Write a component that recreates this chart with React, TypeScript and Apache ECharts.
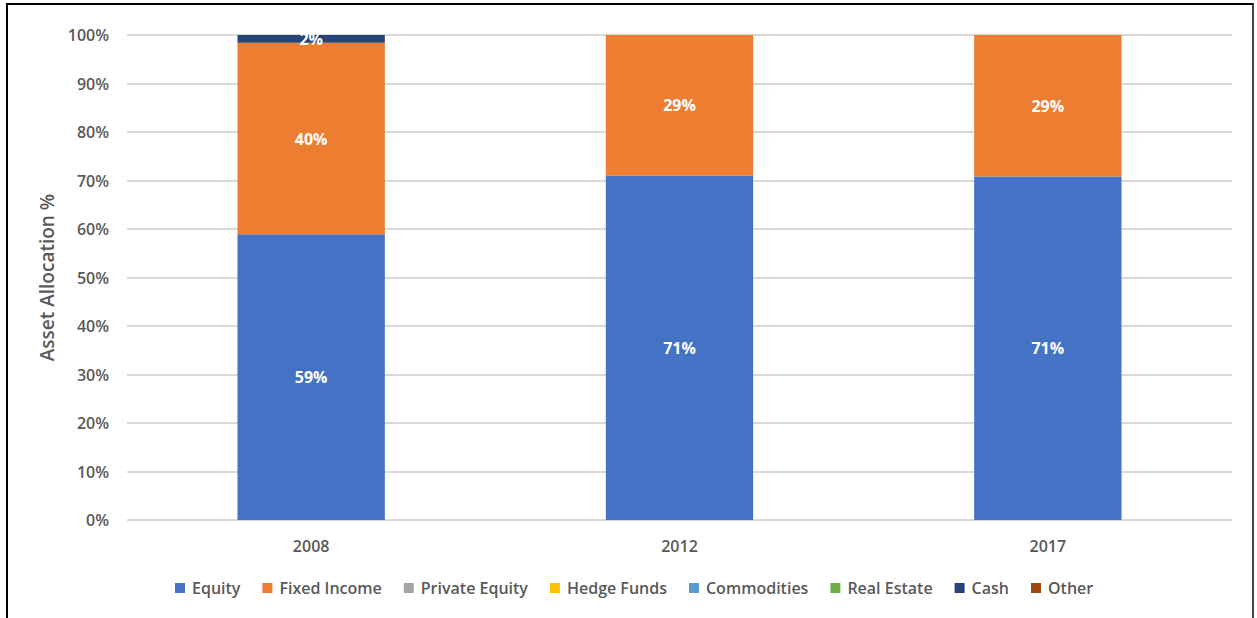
import React, { useEffect, useRef } from "react";
import * as echarts from "echarts";

const categories = ["2008", "2012", "2017"];
const seriesNames = ["Equity", "Fixed Income", "Private Equity", "Hedge Funds", "Commodities", "Real Estate", "Cash", "Other"];
const equity = [58.9, 71.0, 70.8];
const fixedIncome = [39.5, 29.0, 29.2];
const privateEquity = [0, 0, 0];
const hedgeFunds = [0, 0, 0];
const commodities = [0, 0, 0];
const realEstate = [0, 0, 0];
const cash = [1.6, 0, 0];
const other = [0, 0, 0];
const yTicks = [0, 10, 20, 30, 40, 50, 60, 70, 80, 90, 100];
const colors = ["#4472C4", "#ED7D31", "#A5A5A5", "#FFC000", "#5B9BD5", "#70AD47", "#264478", "#9E480E"];

const FONT = "'Open Sans', 'Noto Sans', sans-serif";

export default function App() {
  const ref = useRef<HTMLDivElement>(null);
  useEffect(() => {
    if (!ref.current) return;
    const chart = echarts.init(ref.current, null, { renderer: "svg" });
    const all = [equity, fixedIncome, privateEquity, hedgeFunds, commodities, realEstate, cash, other];
    chart.setOption({
      animation: false,
      color: colors,
      grid: { left: 127, right: 1257 - 1232, top: 35, bottom: 618 - 520, containLabel: false },
      legend: {
        bottom: 17,
        left: 170,
        itemWidth: 10,
        itemHeight: 10,
        itemGap: 22,
        icon: "rect",
        textStyle: { color: "#595959", fontSize: 16, fontFamily: FONT, fontWeight: 600, padding: [0, 0, 0, 2] },
        data: seriesNames,
      },
      xAxis: {
        type: "category",
        data: categories,
        axisLine: { show: true, lineStyle: { color: "#D9D9D9", width: 1 } },
        axisTick: { show: false },
        axisLabel: { color: "#595959", fontSize: 16, fontWeight: 600, fontFamily: FONT, margin: 18 },
      },
      yAxis: {
        type: "value",
        min: 0,
        max: 100,
        interval: 10,
        name: "Asset Allocation %",
        nameLocation: "middle",
        nameGap: 71,
        nameTextStyle: { color: "#595959", fontSize: 19, fontWeight: 600, fontFamily: FONT },
        axisLine: { show: false },
        axisTick: { show: false },
        splitLine: { lineStyle: { color: "#D9D9D9", width: 2 } },
        axisLabel: {
          color: "#595959",
          fontSize: 16,
          fontWeight: 600,
          fontFamily: FONT,
          margin: 18,
          formatter: (v: number) => (yTicks.includes(v) ? v + "%" : ""),
        },
      },
      series: seriesNames.map((name, i) => ({
        name,
        type: "bar",
        stack: "total",
        barWidth: "40%",
        data: all[i],
        label: {
          show: true,
          position: "inside",
          color: "#FFFFFF",
          fontSize: 16,
          fontWeight: 700,
          fontFamily: FONT,
          formatter: (p: any) => (p.value > 0 ? Math.round(p.value) + "%" : ""),
        },
      })),
    });
    return () => chart.dispose();
  }, []);
  return (
    <div style={{ position: "fixed", left: 0, top: 0, width: 1257, height: 618, background: "#fff" }}>
      <div
        style={{
          position: "absolute",
          left: 6,
          top: 3,
          width: 1254 - 6,
          height: 640,
          borderLeft: "2px solid #000",
          borderTop: "2px solid #000",
          borderRight: "2px solid #444",
          boxSizing: "border-box",
        }}
      />
      <div ref={ref} style={{ position: "absolute", left: 0, top: 0, width: 1257, height: 618 }} />
    </div>
  );
}
